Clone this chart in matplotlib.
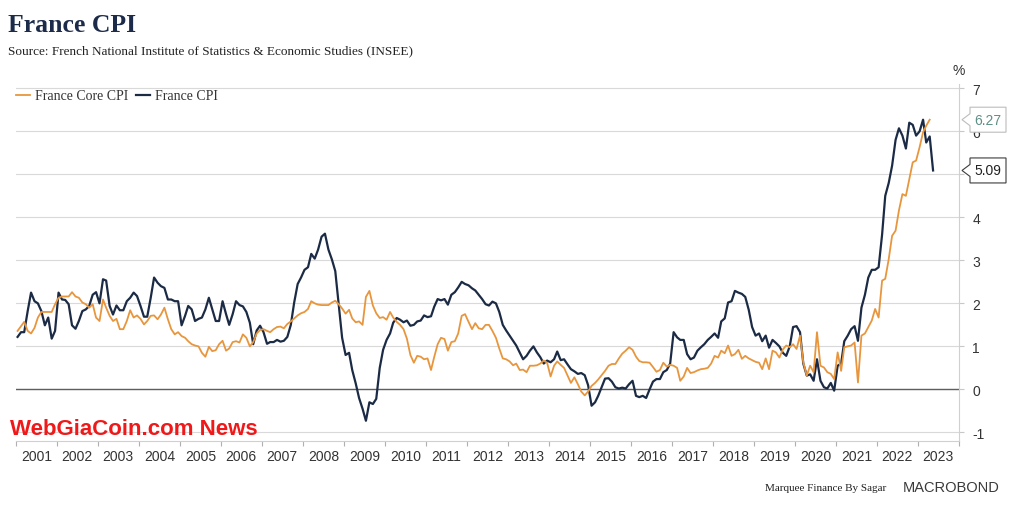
import pandas as pd
import matplotlib
matplotlib.use("Agg")
import matplotlib.pyplot as plt
import matplotlib.dates as mdates
import matplotlib.transforms as mtransforms
from matplotlib.patches import Polygon

plt.rcParams["axes.unicode_minus"] = False

# France CPI, y/y %, monthly Jan 2001 .. May 2023
cpi_2001 = [1.22, 1.33, 1.33, 1.82, 2.25, 2.05, 2.0, 1.82, 1.49, 1.67, 1.18, 1.36]
cpi_2002 = [2.25, 2.09, 2.08, 1.98, 1.49, 1.41, 1.59, 1.82, 1.86, 1.94, 2.2, 2.26]
cpi_2003 = [2.0, 2.56, 2.53, 1.94, 1.74, 1.95, 1.84, 1.84, 2.05, 2.13, 2.25, 2.17]
cpi_2004 = [1.94, 1.69, 1.69, 2.13, 2.6, 2.48, 2.4, 2.36, 2.09, 2.09, 2.05, 2.05]
cpi_2005 = [1.49, 1.71, 1.94, 1.86, 1.59, 1.64, 1.67, 1.86, 2.13, 1.86, 1.59, 1.59]
cpi_2006 = [2.05, 1.75, 1.5, 1.75, 2.05, 1.96, 1.93, 1.8, 1.55, 1.05, 1.37, 1.48]
cpi_2007 = [1.33, 1.06, 1.1, 1.1, 1.15, 1.11, 1.13, 1.22, 1.5, 2.02, 2.45, 2.6]
cpi_2008 = [2.78, 2.84, 3.15, 3.04, 3.25, 3.55, 3.62, 3.25, 3.02, 2.75, 1.95, 1.2]
cpi_2009 = [0.8, 0.85, 0.45, 0.14, -0.2, -0.45, -0.73, -0.3, -0.34, -0.22, 0.5, 0.92]
cpi_2010 = [1.15, 1.3, 1.55, 1.66, 1.62, 1.56, 1.6, 1.48, 1.5, 1.58, 1.6, 1.72]
cpi_2011 = [1.68, 1.7, 1.92, 2.1, 2.07, 2.1, 1.97, 2.2, 2.26, 2.37, 2.5, 2.45]
cpi_2012 = [2.42, 2.35, 2.3, 2.2, 2.1, 1.98, 1.95, 2.04, 2.0, 1.8, 1.5, 1.37]
cpi_2013 = [1.25, 1.13, 1.02, 0.86, 0.7, 0.78, 0.9, 1.0, 0.86, 0.75, 0.6, 0.67]
cpi_2014 = [0.63, 0.7, 0.88, 0.68, 0.7, 0.58, 0.47, 0.42, 0.36, 0.38, 0.33, 0.1]
cpi_2015 = [-0.38, -0.3, -0.15, 0.05, 0.25, 0.26, 0.18, 0.05, 0.02, 0.04, 0.02, 0.12]
cpi_2016 = [0.2, -0.15, -0.18, -0.15, -0.2, 0.0, 0.18, 0.24, 0.24, 0.4, 0.45, 0.6]
cpi_2017 = [1.33, 1.21, 1.15, 1.15, 0.82, 0.7, 0.74, 0.9, 0.98, 1.05, 1.15, 1.22]
cpi_2018 = [1.3, 1.2, 1.58, 1.65, 2.02, 2.05, 2.29, 2.25, 2.22, 2.15, 1.85, 1.45]
cpi_2019 = [1.25, 1.3, 1.12, 1.25, 0.97, 1.15, 1.08, 1.0, 0.85, 0.78, 1.0, 1.45]
cpi_2020 = [1.47, 1.33, 0.6, 0.32, 0.35, 0.2, 0.7, 0.2, 0.05, 0.02, 0.15, -0.03]
cpi_2021 = [0.55, 0.6, 1.12, 1.25, 1.4, 1.47, 1.13, 1.9, 2.2, 2.6, 2.78, 2.78]
cpi_2022 = [2.84, 3.6, 4.5, 4.8, 5.2, 5.8, 6.07, 5.9, 5.6, 6.2, 6.15, 5.9]
cpi_2023 = [6.0, 6.27, 5.74, 5.88, 5.09]

# France Core CPI, y/y %, monthly Jan 2001 .. Apr 2023
core_2001 = [1.36, 1.47, 1.57, 1.36, 1.3, 1.43, 1.67, 1.8, 1.8, 1.8, 1.8, 1.98]
core_2002 = [2.13, 2.16, 2.16, 2.16, 2.26, 2.16, 2.13, 2.02, 1.98, 1.9, 1.98, 1.67]
core_2003 = [1.59, 2.09, 1.9, 1.71, 1.59, 1.64, 1.4, 1.4, 1.59, 1.84, 1.67, 1.72]
core_2004 = [1.64, 1.51, 1.59, 1.71, 1.72, 1.63, 1.74, 1.9, 1.63, 1.4, 1.28, 1.33]
core_2005 = [1.24, 1.2, 1.12, 1.05, 1.02, 1.0, 0.85, 0.76, 0.99, 0.89, 0.91, 1.05]
core_2006 = [1.13, 0.9, 0.95, 1.1, 1.12, 1.09, 1.28, 1.2, 1.0, 1.1, 1.3, 1.38]
core_2007 = [1.4, 1.36, 1.33, 1.4, 1.45, 1.46, 1.42, 1.52, 1.58, 1.65, 1.72, 1.77]
core_2008 = [1.8, 1.87, 2.05, 2.0, 1.97, 1.96, 1.96, 1.96, 2.02, 2.06, 1.98, 1.88]
core_2009 = [1.76, 1.85, 1.65, 1.56, 1.58, 1.5, 2.15, 2.29, 1.95, 1.77, 1.66, 1.68]
core_2010 = [1.62, 1.8, 1.67, 1.57, 1.5, 1.4, 1.18, 0.8, 0.62, 0.78, 0.76, 0.7]
core_2011 = [0.72, 0.45, 0.75, 1.05, 1.2, 1.17, 0.9, 1.1, 1.12, 1.3, 1.71, 1.75]
core_2012 = [1.57, 1.4, 1.54, 1.42, 1.4, 1.5, 1.5, 1.36, 1.2, 0.95, 0.72, 0.7]
core_2013 = [0.65, 0.56, 0.6, 0.45, 0.46, 0.4, 0.55, 0.55, 0.56, 0.6, 0.67, 0.62]
core_2014 = [0.3, 0.55, 0.65, 0.57, 0.5, 0.32, 0.15, 0.28, 0.12, -0.05, -0.14, -0.05]
core_2015 = [0.08, 0.15, 0.23, 0.33, 0.43, 0.55, 0.59, 0.59, 0.72, 0.83, 0.9, 0.98]
core_2016 = [0.92, 0.76, 0.66, 0.63, 0.63, 0.62, 0.52, 0.41, 0.45, 0.62, 0.53, 0.57]
core_2017 = [0.55, 0.5, 0.2, 0.3, 0.5, 0.38, 0.4, 0.44, 0.47, 0.48, 0.5, 0.6]
core_2018 = [0.78, 0.74, 0.9, 0.84, 1.02, 0.78, 0.82, 0.92, 0.71, 0.78, 0.72, 0.68]
core_2019 = [0.64, 0.62, 0.47, 0.72, 0.47, 0.9, 0.86, 0.74, 0.93, 1.02, 0.98, 1.05]
core_2020 = [0.94, 1.25, 0.63, 0.32, 0.55, 0.4, 1.33, 0.55, 0.51, 0.4, 0.36, 0.24]
core_2021 = [0.86, 0.43, 0.98, 1.0, 1.02, 1.09, 0.16, 1.25, 1.3, 1.45, 1.6, 1.87]
core_2022 = [1.67, 2.53, 2.57, 3.03, 3.57, 3.69, 4.16, 4.54, 4.5, 4.89, 5.28, 5.32]
core_2023 = [5.63, 5.98, 6.13, 6.27]

cpi = (cpi_2001 + cpi_2002 + cpi_2003 + cpi_2004 + cpi_2005 + cpi_2006 + cpi_2007
       + cpi_2008 + cpi_2009 + cpi_2010 + cpi_2011 + cpi_2012 + cpi_2013 + cpi_2014
       + cpi_2015 + cpi_2016 + cpi_2017 + cpi_2018 + cpi_2019 + cpi_2020 + cpi_2021
       + cpi_2022 + cpi_2023)
core = (core_2001 + core_2002 + core_2003 + core_2004 + core_2005 + core_2006 + core_2007
        + core_2008 + core_2009 + core_2010 + core_2011 + core_2012 + core_2013 + core_2014
        + core_2015 + core_2016 + core_2017 + core_2018 + core_2019 + core_2020 + core_2021
        + core_2022 + core_2023)

dates = pd.date_range("2001-01-01", periods=len(cpi), freq="MS") + pd.Timedelta(days=14)
dates_core = dates[:len(core)]

NAVY = "#1c2b45"
ORANGE = "#e8963d"
W, H = 1012, 506

fig = plt.figure(figsize=(W / 100, H / 100), dpi=100)
ax = fig.add_axes([16 / W, 1 - 442 / H, (959 - 16) / W, (442 - 85) / H])

l_cpi, = ax.plot(dates, cpi, color=NAVY, lw=1.6, label="France CPI", zorder=3)
l_core, = ax.plot(dates_core, core, color=ORANGE, lw=1.3, label="France Core CPI", zorder=4)

ax.set_xlim(pd.Timestamp("2001-01-01"), pd.Timestamp("2024-01-01"))
ax.set_ylim(-1.2, 7.1)

# y axis on the right
ax.yaxis.tick_right()
ax.set_yticks(range(-1, 8))
ax.grid(axis="y", color="#d9d9d9", lw=0.8)
ax.axhline(0, color="#5e5e5e", lw=1.0, zorder=2)
ax.tick_params(axis="y", which="major", length=3.5, width=0.8, color="#c8c8c8",
               pad=6, labelsize=10, labelcolor="#333333")

# x axis: ticks at year starts, labels mid-year
ax.xaxis.set_major_locator(mdates.YearLocator())
ax.xaxis.set_major_formatter(plt.NullFormatter())
ax.xaxis.set_minor_locator(mdates.MonthLocator(bymonth=7))
ax.xaxis.set_minor_formatter(mdates.DateFormatter("%Y"))
ax.tick_params(axis="x", which="major", length=3.5, width=0.8, color="#b0b0b0")
ax.tick_params(axis="x", which="minor", length=0, pad=6, labelsize=10, labelcolor="#333333")

for s in ["top", "left"]:
    ax.spines[s].set_visible(False)
for s in ["bottom", "right"]:
    ax.spines[s].set_color("#d0d0d0")
    ax.spines[s].set_linewidth(0.8)

for lab in ax.get_xticklabels(minor=True) + ax.get_yticklabels():
    lab.set_family("Liberation Sans")

leg = fig.legend(handles=[l_core, l_cpi], loc="center left",
                 bbox_to_anchor=(16 / W, 1 - 97 / H), ncol=2, frameon=False,
                 borderpad=0, borderaxespad=0,
                 handlelength=1.0, handletextpad=0.35, columnspacing=0.6,
                 prop={"family": "Liberation Serif", "size": 10})
for t in leg.get_texts():
    t.set_color("#333333")

# end-value tags at the right spine
def add_tag(value, edge, txtcolor):
    trans = fig.dpi_scale_trans + mtransforms.ScaledTranslation(
        1.0, value, ax.get_yaxis_transform())
    verts = [(0.03, 0), (0.11, 0.06), (0.11, 0.125), (0.47, 0.125),
             (0.47, -0.125), (0.11, -0.125), (0.11, -0.06)]
    fig.add_artist(Polygon(verts, closed=True, transform=trans, fc="white",
                           ec=edge, lw=0.8, zorder=6))
    fig.text(0.29, 0, f"{value:.2f}", transform=trans, ha="center", va="center",
             family="Liberation Sans", size=10, color=txtcolor, zorder=7)

add_tag(core[-1], "#bcbcbc", "#5e8f86")
add_tag(cpi[-1], "#3c3c3c", "#222222")

fig.text(959 / W, 1 - 71 / H, "%", ha="center", va="center",
         family="Liberation Sans", size=10, color="#333333")

fig.text(8 / W, 1 - 32 / H, "France CPI", family="Liberation Serif",
         weight="bold", size=18.5, color="#1d2b4a", va="baseline")
fig.text(8 / W, 1 - 54 / H,
         "Source: French National Institute of Statistics & Economic Studies (INSEE)",
         family="Liberation Serif", size=9.5, color="#222222", va="baseline")

fig.text(10 / W, 1 - 435 / H, "WebGiaCoin.com News", family="Liberation Sans",
         weight="bold", size=16, color="#f01818", va="baseline")

fig.text(765 / W, 1 - 491 / H, "Marquee Finance By Sagar", family="Liberation Serif",
         size=8, color="#222222", va="baseline")
fig.text(903 / W, 1 - 492 / H, "MACROBOND", family="Liberation Sans",
         size=10.5, color="#3a3a3a", va="baseline")

fig.savefig("out.png", dpi=100)
